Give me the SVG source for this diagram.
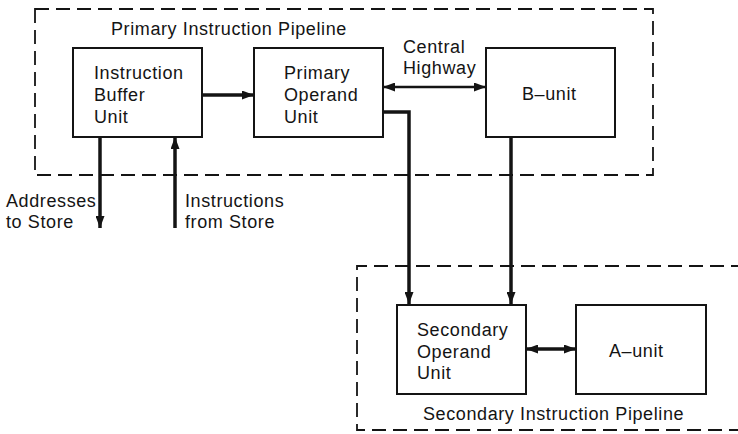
<svg xmlns="http://www.w3.org/2000/svg" width="738" height="434" viewBox="0 0 738 434">
  <style>
    text { font-family: "Liberation Sans", Arial, sans-serif; font-size: 18px; letter-spacing: 0.6px; fill: #141414; }
    .unit { fill: #fff; stroke: #141414; stroke-width: 2; }
    .pipe { fill: none; stroke: #141414; stroke-width: 1.8; stroke-dasharray: 14 7; }
    .wire { fill: none; stroke: #141414; stroke-width: 3.5; }
    .bus { fill: none; stroke: #141414; stroke-width: 2.5; }
  </style>
  <defs>
    <marker id="head" viewBox="0 0 12 9" refX="12" refY="4.5" markerWidth="12" markerHeight="9" markerUnits="userSpaceOnUse" orient="auto-start-reverse">
      <path d="M0,0 L12,4.5 L0,9 Z" fill="#141414"/>
    </marker>
  </defs>
  <rect width="738" height="434" fill="#fff"/>

  <!-- pipeline boundaries -->
  <g id="primary-pipeline">
    <rect class="pipe" x="35" y="9" width="618" height="166"/>
    <text x="111" y="35">Primary Instruction Pipeline</text>
  </g>
  <g id="secondary-pipeline">
    <path class="pipe" d="M745,266 H357 V430 H745"/>
    <text x="423" y="420">Secondary Instruction Pipeline</text>
  </g>

  <!-- connectors -->
  <g id="connectors">
    <line class="wire" x1="202" y1="95" x2="254" y2="95" marker-end="url(#head)"/>
    <line class="bus" x1="383" y1="87" x2="486" y2="87" marker-start="url(#head)" marker-end="url(#head)"/>
    <path class="wire" d="M383,112 H409 V304" marker-end="url(#head)"/>
    <line class="wire" x1="511" y1="137" x2="511" y2="304" marker-end="url(#head)"/>
    <line class="wire" x1="526" y1="349" x2="576" y2="349" marker-start="url(#head)" marker-end="url(#head)"/>
    <line class="wire" x1="100" y1="137" x2="100" y2="228" marker-end="url(#head)"/>
    <line class="wire" x1="175" y1="228" x2="175" y2="137" marker-end="url(#head)"/>
    <text x="403" y="53">Central</text>
    <text x="403" y="74">Highway</text>
    <text x="6" y="207">Addresses</text>
    <text x="6" y="228">to Store</text>
    <text x="185" y="207">Instructions</text>
    <text x="185" y="228">from Store</text>
  </g>

  <!-- units -->
  <g id="instruction-buffer-unit">
    <rect class="unit" x="73" y="48" width="129" height="89"/>
    <text x="94" y="79">Instruction</text>
    <text x="94" y="101">Buffer</text>
    <text x="94" y="123">Unit</text>
  </g>
  <g id="primary-operand-unit">
    <rect class="unit" x="254" y="48" width="129" height="89"/>
    <text x="284" y="79">Primary</text>
    <text x="284" y="101">Operand</text>
    <text x="284" y="123">Unit</text>
  </g>
  <g id="b-unit">
    <rect class="unit" x="486" y="48" width="129" height="89"/>
    <text x="522" y="100">B–unit</text>
  </g>
  <g id="secondary-operand-unit">
    <rect class="unit" x="397" y="305" width="129" height="89"/>
    <text x="417" y="336">Secondary</text>
    <text x="417" y="358">Operand</text>
    <text x="417" y="379">Unit</text>
  </g>
  <g id="a-unit">
    <rect class="unit" x="576" y="305" width="130" height="89"/>
    <text x="609" y="357">A–unit</text>
  </g>
</svg>
